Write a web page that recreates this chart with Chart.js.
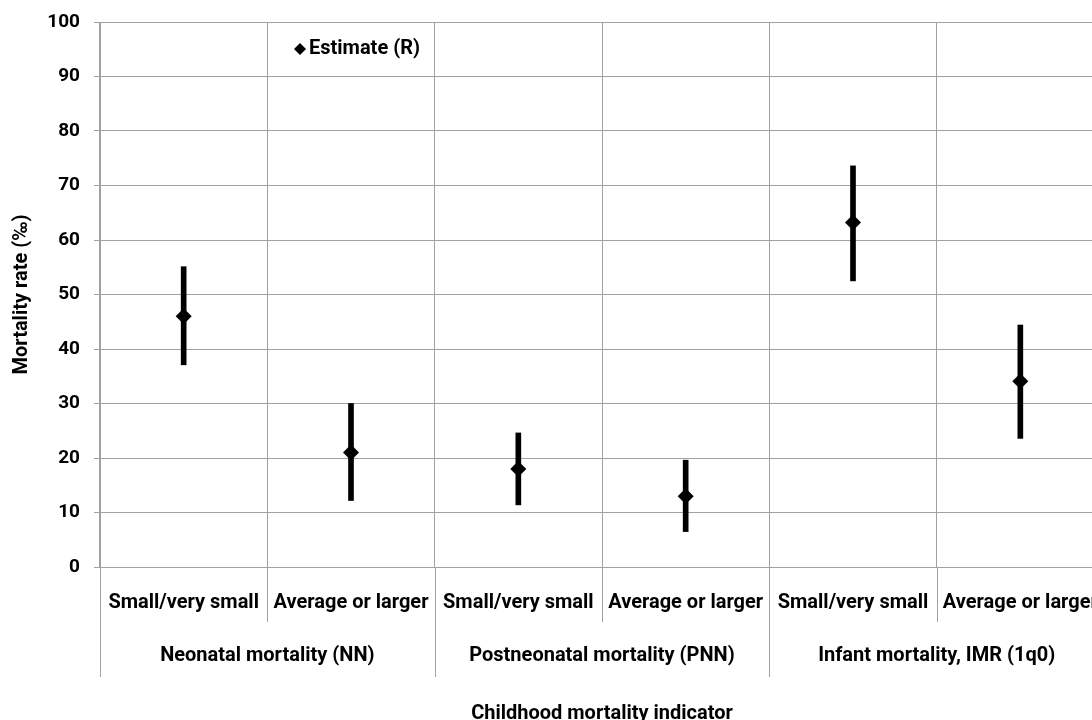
<!DOCTYPE html>
<html><head><meta charset="utf-8">
<script src="https://cdn.jsdelivr.net/npm/chart.js@4/dist/chart.umd.min.js"></script>
<style>html,body{margin:0;padding:0;background:#fff;overflow:hidden;}
#wrap{width:1112px;height:720px;}</style></head>
<body><div id="wrap"><canvas id="c"></canvas></div>
<script>
const categories = ['Small/very small','Average or larger','Small/very small','Average or larger','Small/very small','Average or larger'];
const groups = ['Neonatal mortality (NN)','Postneonatal mortality (PNN)','Infant mortality, IMR (1q0)'];
const estimates = [46, 21, 18, 13, 63.2, 34.1];
const lowerCI = [37.1, 12.2, 11.4, 6.5, 52.5, 23.6];
const upperCI = [55.1, 30.0, 24.6, 19.6, 73.6, 44.4];
const yMin = 0, yMax = 100, yStep = 10;
const seriesName = 'Estimate (R)';
const xTitle = 'Childhood mortality indicator';
const yTitle = 'Mortality rate (‰)';

const FONT = 'Roboto';
const GRID = '#a0a0a0';

const ranges = lowerCI.map((lo, i) => [lo, upperCI[i]]);

const multiLevel = {
  id: 'multiLevel',
  afterDraw(chart) {
    const ctx = chart.ctx;
    const xs = chart.scales.x;
    const n = categories.length;
    const w = (xs.right - xs.left) / n;
    const y0 = xs.top;
    ctx.save();
    ctx.strokeStyle = GRID;
    ctx.lineWidth = 1;
    for (let i = 0; i <= n; i++) {
      const x = Math.round(xs.left + i * w) + 0.5;
      const len = (i % 2 === 0) ? 110 : 55;
      ctx.beginPath(); ctx.moveTo(x, y0); ctx.lineTo(x, y0 + len); ctx.stroke();
    }
    ctx.fillStyle = '#000';
    ctx.font = 'bold 20px ' + FONT;
    ctx.textAlign = 'center'; ctx.textBaseline = 'middle';
    groups.forEach((g, j) => {
      const cx = xs.left + (2 * j + 1) * w;
      ctx.fillText(g, cx, y0 + 89);
    });
    // legend
    const lx = 300, ly = 49;
    ctx.beginPath();
    ctx.moveTo(lx, ly - 6); ctx.lineTo(lx + 6, ly); ctx.lineTo(lx, ly + 6); ctx.lineTo(lx - 6, ly); ctx.closePath();
    ctx.fill();
    ctx.textAlign = 'left';
    ctx.fillText(seriesName, lx + 9, ly);
    ctx.restore();
  }
};

new Chart(document.getElementById('c'), {
  data: {
    labels: categories,
    datasets: [
      { type: 'line', label: seriesName, data: estimates, showLine: false,
        pointStyle: 'rectRot', pointRadius: 8, pointHoverRadius: 8,
        backgroundColor: '#000', borderColor: '#000', borderWidth: 0, order: 0 },
      { type: 'bar', label: 'CI', data: ranges, backgroundColor: '#000',
        barThickness: 5, order: 1 }
    ]
  },
  options: {
    responsive: true, maintainAspectRatio: false, animation: false,
    layout: { padding: { top: 22, left: 0, right: 0, bottom: 0 } },
    plugins: { legend: { display: false }, tooltip: { enabled: false } },
    scales: {
      x: {
        offset: true,
        grid: { offset: true, color: GRID, lineWidth: 1, drawTicks: true, tickLength: 24, tickColor: 'rgba(0,0,0,0)' },
        border: { color: GRID, width: 1 },
        ticks: { color: '#000', font: { family: FONT, weight: 'bold', size: 20 }, padding: 0, maxRotation: 0, autoSkip: false },
        title: { display: true, text: xTitle, color: '#000', font: { family: FONT, weight: 'bold', size: 20 }, padding: { top: 0, bottom: -6 } },
        afterFit(s) { s.height = 153; }
      },
      y: {
        min: yMin, max: yMax,
        grid: { color: GRID, lineWidth: 1, tickLength: 6 },
        border: { color: GRID, width: 1 },
        ticks: { stepSize: yStep, color: '#000', font: { family: FONT, weight: 'bold', size: 19, lineHeight: 0.8 }, padding: 14 },
        title: { display: true, text: yTitle, color: '#000', font: { family: FONT, weight: 'bold', size: 20 }, padding: { top: 10, bottom: 0 } },
        afterFit(s) { s.width = 100; }
      }
    }
  },
  plugins: [multiLevel]
});
</script></body></html>
